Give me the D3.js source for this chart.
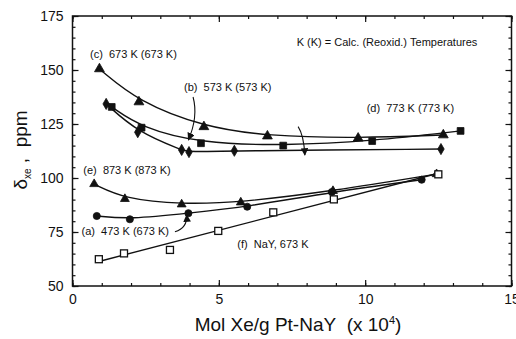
<!DOCTYPE html>
<html>
<head>
<meta charset="utf-8">
<script src="https://cdn.jsdelivr.net/npm/d3@7"></script>
<style>
  body { margin: 0; background: #fff; }
  text { font-family: "Liberation Sans", Arial, sans-serif; fill: #111; }
</style>
</head>
<body>
<div id="vis"></div>
<script>
const FRAME_WIDTH = 516;
const FRAME_HEIGHT = 339;
const PLOT = {left: 72.5, right: 511.5, top: 16, bottom: 286};

// series (x = mol Xe/g x 1e4, y = ppm)
const c_x = [0.92, 2.27, 4.49, 6.66, 9.76, 12.67];
const c_y = [150.5, 135.2, 123.7, 119.4, 118.4, 119.9];
const b_x = [1.34, 2.36, 4.39, 7.2, 10.24, 13.26];
const b_y = [132.9, 123.3, 116.1, 115.0, 117.1, 121.8];
const d_x = [1.15, 2.23, 3.73, 3.98, 5.53, 12.59];
const d_y = [134.3, 121.2, 113.0, 112.0, 112.6, 113.4];
const e_x = [0.74, 1.79, 3.73, 5.75, 8.9, 12.44];
const e_y = [97.2, 90.3, 87.8, 88.7, 94.0, 101.8];
const a_x = [0.83, 1.96, 3.96, 5.97, 8.86, 11.93];
const a_y = [82.4, 80.9, 83.7, 86.7, 93.5, 99.2];
const f_x = [0.9, 1.76, 3.33, 4.98, 6.86, 8.93, 12.5];
const f_y = [62.4, 65.1, 66.7, 75.5, 84.1, 90.1, 101.7];

const X_TICKS = [0, 5, 10, 15];
const Y_TICKS = [50, 75, 100, 125, 150, 175];

const SP = "\u00A0";

const SVG = d3.select("#vis")
  .append("svg")
    .attr("width", FRAME_WIDTH)
    .attr("height", FRAME_HEIGHT);

const X_SCALE = d3.scaleLinear().domain([0, 15]).range([PLOT.left, PLOT.right]);
const Y_SCALE = d3.scaleLinear().domain([50, 175]).range([PLOT.bottom, PLOT.top]);

// frame
SVG.append("rect")
  .attr("x", PLOT.left).attr("y", PLOT.top)
  .attr("width", PLOT.right - PLOT.left).attr("height", PLOT.bottom - PLOT.top)
  .attr("fill", "none").attr("stroke", "#111").attr("stroke-width", 1.5);

// ticks pointing inward on all four sides
function ticks(axis, tr, vals, size) {
  const g = SVG.append("g").attr("transform", tr)
    .call(axis.tickValues(vals).tickSize(size).tickFormat(""));
  g.select(".domain").remove();
  g.selectAll("line").attr("stroke", "#111").attr("stroke-width", 1.2);
}
const xMinor = d3.range(0, 16, 1);
const yMinor = d3.range(50, 176, 5);
ticks(d3.axisBottom(X_SCALE), `translate(0,${PLOT.bottom})`, xMinor, -3);
ticks(d3.axisBottom(X_SCALE), `translate(0,${PLOT.bottom})`, X_TICKS, -6);
ticks(d3.axisTop(X_SCALE), `translate(0,${PLOT.top})`, xMinor, -3);
ticks(d3.axisTop(X_SCALE), `translate(0,${PLOT.top})`, X_TICKS, -6);
ticks(d3.axisLeft(Y_SCALE), `translate(${PLOT.left},0)`, yMinor, -3);
ticks(d3.axisLeft(Y_SCALE), `translate(${PLOT.left},0)`, Y_TICKS, -6);
ticks(d3.axisRight(Y_SCALE), `translate(${PLOT.right},0)`, yMinor, -3);
ticks(d3.axisRight(Y_SCALE), `translate(${PLOT.right},0)`, Y_TICKS, -6);

// tick labels
const xl = SVG.append("g").attr("transform", `translate(0,${PLOT.bottom})`)
  .call(d3.axisBottom(X_SCALE).tickValues(X_TICKS).tickSize(0).tickPadding(8));
xl.select(".domain").remove();
xl.selectAll("text").attr("font-size", "14px").attr("fill", "#111")
  .style("font-family", "Liberation Sans, Arial, sans-serif");
const yl = SVG.append("g").attr("transform", `translate(${PLOT.left},0)`)
  .call(d3.axisLeft(Y_SCALE).tickValues(Y_TICKS).tickSize(0).tickPadding(9));
yl.select(".domain").remove();
yl.selectAll("text").attr("font-size", "14px").attr("fill", "#111")
  .style("font-family", "Liberation Sans, Arial, sans-serif");

// axis titles
const xt = SVG.append("text")
  .attr("x", 298).attr("y", 331)
  .attr("text-anchor", "middle").attr("font-size", "19px");
xt.append("tspan").text("Mol Xe/g Pt-NaY" + SP + SP + "(x 10");
xt.append("tspan").attr("font-size", "11px").attr("dy", -7).text("4");
xt.append("tspan").attr("dy", 7).text(")");

const yt = SVG.append("text")
  .attr("transform", "translate(27,150) rotate(-90)")
  .attr("text-anchor", "middle").attr("font-size", "19px");
yt.append("tspan").text("δ");
yt.append("tspan").attr("font-size", "10px").attr("dy", 4).text("xe");
yt.append("tspan").attr("dy", -4).text(SP + "," + SP + SP + "ppm");

// curves
const zip = (xs, ys) => xs.map((x, i) => ({x: x, y: ys[i]}));
const LINE = d3.line().x(d => X_SCALE(d.x)).y(d => Y_SCALE(d.y)).curve(d3.curveBasis);

const SERIES = [
  {pts: zip(c_x, c_y), sym: d3.symbolTriangle, size: 42},
  {pts: zip(b_x, b_y), sym: d3.symbolSquare, size: 46},
  {pts: zip(d_x, d_y), sym: d3.symbolDiamond, size: 36},
  {pts: zip(e_x, e_y), sym: d3.symbolTriangle, size: 34},
  {pts: zip(a_x, a_y), sym: d3.symbolCircle, size: 40}
];

SERIES.forEach(s => {
  SVG.append("path").datum(s.pts)
    .attr("d", LINE).attr("fill", "none")
    .attr("stroke", "#111").attr("stroke-width", 1.4);
});

// (f) NaY: straight least-squares line
const fPts = zip(f_x, f_y);
const mx = d3.mean(f_x), my = d3.mean(f_y);
const slope = d3.sum(fPts, p => (p.x - mx) * (p.y - my)) / d3.sum(fPts, p => (p.x - mx) ** 2);
const fAt = x => my + slope * (x - mx);
const fEnds = [d3.min(f_x), d3.max(f_x)].map(x => ({x: x, y: fAt(x)}));
SVG.append("path").datum(fEnds)
  .attr("d", d3.line().x(d => X_SCALE(d.x)).y(d => Y_SCALE(d.y)))
  .attr("stroke", "#111").attr("stroke-width", 1.4).attr("fill", "none");

// markers
SERIES.forEach(s => {
  SVG.selectAll(null).data(s.pts).enter()
    .append("path")
      .attr("d", d3.symbol().type(s.sym).size(s.size))
      .attr("transform", d => `translate(${X_SCALE(d.x)},${Y_SCALE(d.y)})`)
      .attr("fill", "#111").attr("stroke", "#111").attr("stroke-width", 0.8);
});
SVG.selectAll(null).data(fPts).enter()
  .append("rect")
    .attr("x", d => X_SCALE(d.x) - 3.5).attr("y", d => Y_SCALE(d.y) - 3.5)
    .attr("width", 7).attr("height", 7)
    .attr("fill", "#fff").attr("stroke", "#111").attr("stroke-width", 1.3);

// annotations (positions in data units)
const LABELS = [
  {t: "(c)  673 K (673 K)", x: 0.6, y: 155.6},
  {t: "(b)  573 K (573 K)", x: 3.81, y: 140.3},
  {t: "(d)  773 K (773 K)", x: 10.05, y: 130.6},
  {t: "K (K) = Calc. (Reoxid.) Temperatures", x: 7.66, y: 161.1},
  {t: "(e)  873 K (873 K)", x: 0.37, y: 101.9},
  {t: "(a)  473 K (673 K)", x: 0.31, y: 73.4},
  {t: "(f)  NaY, 673 K", x: 5.63, y: 67.4}
];
SVG.selectAll(null).data(LABELS).enter()
  .append("text")
    .attr("x", d => X_SCALE(d.x)).attr("y", d => Y_SCALE(d.y))
    .attr("font-size", "11px")
    .text(d => d.t.replace(/ /g, SP));

SVG.append("defs").append("marker")
  .attr("id", "arr").attr("viewBox", "0 0 10 10")
  .attr("refX", 9).attr("refY", 5)
  .attr("markerWidth", 7).attr("markerHeight", 7)
  .attr("orient", "auto-start-reverse")
  .append("path").attr("d", "M0,0L10,5L0,10z").attr("fill", "#111");

const ARROWS = [
  [[4.12, 137.5], [4.3, 128.4], [3.96, 117.6]],
  [[7.71, 123.8], [7.9, 119.9], [7.94, 110.6]],
  [[3.5, 75.1], [3.93, 76.9], [3.9, 82.9]]
];
ARROWS.forEach(a => {
  const p = a.map(q => [X_SCALE(q[0]), Y_SCALE(q[1])]);
  SVG.append("path")
    .attr("d", `M${p[0]}Q${p[1]} ${p[2]}`)
    .attr("fill", "none").attr("stroke", "#111").attr("stroke-width", 1.1)
    .attr("marker-end", "url(#arr)");
});
</script>
</body>
</html>
